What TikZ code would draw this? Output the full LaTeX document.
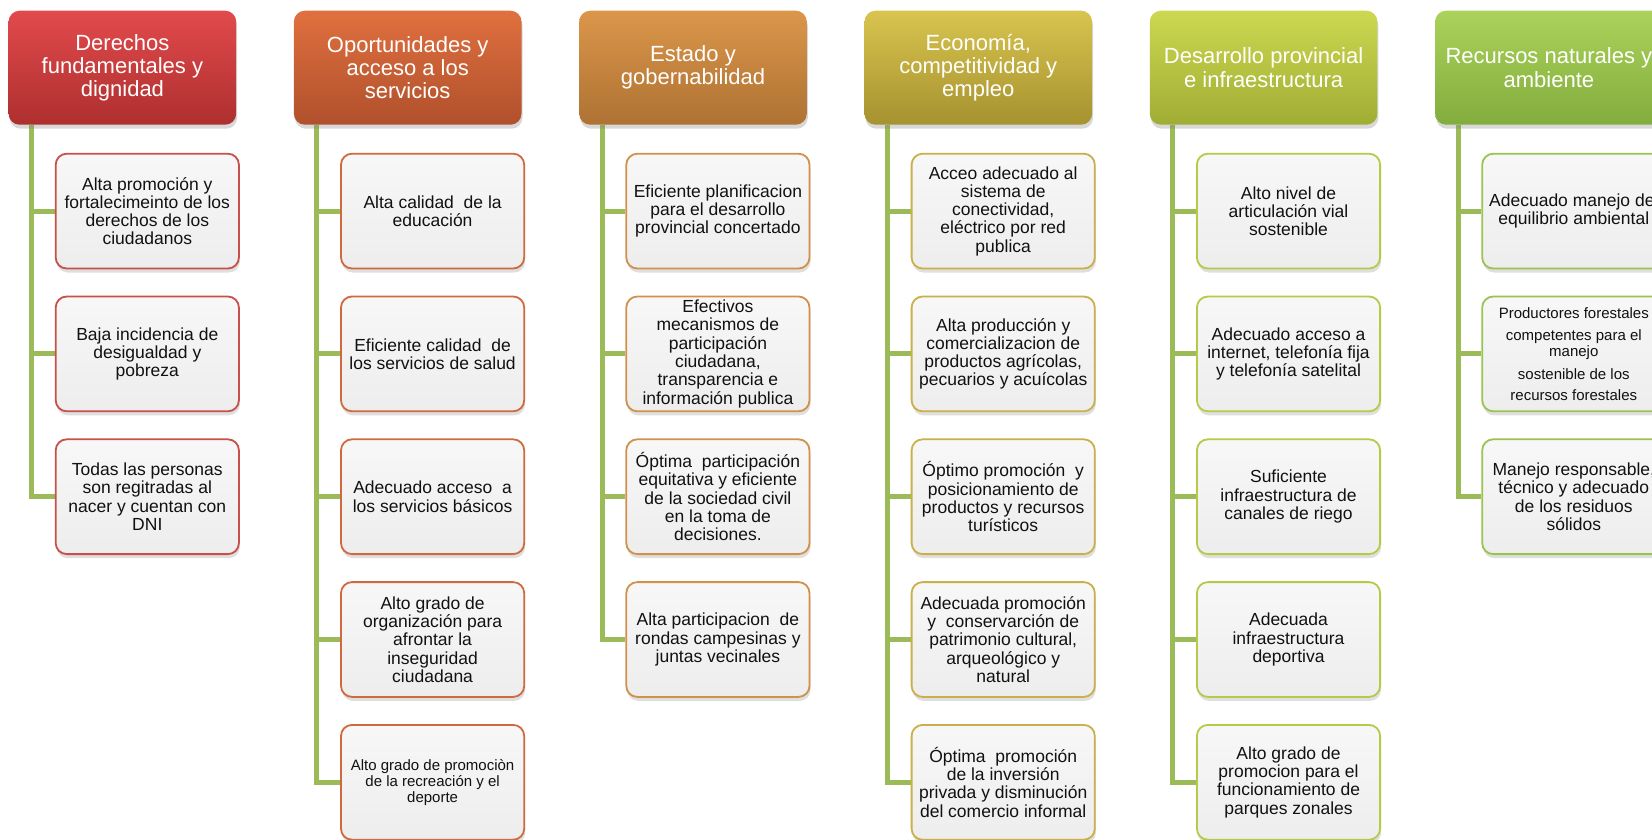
\documentclass[tikz,border=0pt]{standalone}
\usepackage{fontspec}
\setmainfont{Liberation Sans}
\usetikzlibrary{shadows,calc}
\pgfdeclarelayer{bg}
\pgfsetlayers{bg,main}
\definecolor{conncol}{HTML}{9BBB59}
\definecolor{b1}{HTML}{C8504B}\definecolor{t1}{HTML}{E24A4C}\definecolor{d1}{HTML}{AE2F2F}
\definecolor{b2}{HTML}{D0693E}\definecolor{t2}{HTML}{E0703F}\definecolor{d2}{HTML}{B0502C}
\definecolor{b3}{HTML}{D0914A}\definecolor{t3}{HTML}{DB964A}\definecolor{d3}{HTML}{AE7233}
\definecolor{b4}{HTML}{C9B048}\definecolor{t4}{HTML}{D8C44E}\definecolor{d4}{HTML}{A6922F}
\definecolor{b5}{HTML}{B7CA48}\definecolor{t5}{HTML}{CCD850}\definecolor{d5}{HTML}{A0AD34}
\definecolor{b6}{HTML}{9BC350}\definecolor{t6}{HTML}{ABD25A}\definecolor{d6}{HTML}{82AC3D}
\definecolor{txt}{HTML}{111111}
\tikzset{
  headbox/.style={anchor=north west, rounded corners=11pt, minimum width=227.6pt, minimum height=114pt,
    inner sep=2pt, align=center, text=white, font=\fontsize{22}{23.2}\selectfont,
    drop shadow={shadow xshift=1pt, shadow yshift=-4pt, opacity=0.3}},
  childbox/.style={anchor=north west, rounded corners=11pt, minimum width=183.2pt, minimum height=114.8pt,
    inner sep=2pt, align=center, text=txt, line width=1.8pt, top color=white!97!black, bottom color=white!93!black,
    font=\fontsize{17.5}{18.3}\selectfont,
    drop shadow={shadow xshift=1pt, shadow yshift=-4pt, opacity=0.25}},
  smalltext/.style={font=\fontsize{15}{15.8}\selectfont},
  conn/.style={draw=conncol, line width=5pt},
  h1s/.style={headbox, top color=t1, bottom color=d1},
  h2s/.style={headbox, top color=t2, bottom color=d2},
  h3s/.style={headbox, top color=t3, bottom color=d3},
  h4s/.style={headbox, top color=t4, bottom color=d4},
  h5s/.style={headbox, top color=t5, bottom color=d5},
  h6s/.style={headbox, top color=t6, bottom color=d6},
  k1/.style={childbox, draw=b1},
  k2/.style={childbox, draw=b2},
  k3/.style={childbox, draw=b3},
  k4/.style={childbox, draw=b4},
  k5/.style={childbox, draw=b5},
  k6/.style={childbox, draw=b6},
}
\begin{document}
\begin{tikzpicture}[x=1pt,y=-1pt]
\useasboundingbox (0,0) rectangle (1652,839);
\clip (0,0) rectangle (1652,839);

% headers
\node[h1s] (h1) at (8.4,10.5) {Derechos\\fundamentales y\\dignidad};
\node[h2s] (h2) at (293.7,10.5) {Oportunidades y\\acceso a los\\servicios};
\node[h3s] (h3) at (579.0,10.5) {Estado y\\gobernabilidad};
\node[h4s] (h4) at (864.3,10.5) {Economía,\\competitividad y\\empleo};
\node[h5s] (h5) at (1149.6,10.5) {Desarrollo provincial\\e infraestructura};
\node[h6s] (h6) at (1434.9,10.5) {Recursos naturales y\\ambiente};

% column 1
\node[k1] (c11) at (54.8,152.8) {Alta promoción y\\fortalecimeinto de los\\derechos de los\\ciudadanos};
\node[k1] (c12) at (54.8,295.6) {Baja incidencia de\\desigualdad y\\pobreza};
\node[k1] (c13) at (54.8,438.4) {Todas las personas\\son regitradas al\\nacer y cuentan con\\DNI};

% column 2
\node[k2] (c21) at (340.1,152.8) {Alta calidad\ \ de la\\educación};
\node[k2] (c22) at (340.1,295.6) {Eficiente calidad\ \ de\\los servicios de salud};
\node[k2] (c23) at (340.1,438.4) {Adecuado acceso\ \ a\\los servicios básicos};
\node[k2] (c24) at (340.1,581.2) {Alto grado de\\organización para\\afrontar la\\inseguridad\\ciudadana};
\node[k2,smalltext] (c25) at (340.1,724.0) {Alto grado de promociòn\\de la recreación y el\\deporte};

% column 3
\node[k3] (c31) at (625.4,152.8) {Eficiente planificacion\\para el desarrollo\\provincial concertado};
\node[k3] (c32) at (625.4,295.6) {Efectivos\\mecanismos de\\participación\\ciudadana,\\transparencia e\\información publica};
\node[k3] (c33) at (625.4,438.4) {Óptima\ \ participación\\equitativa y eficiente\\de la sociedad civil\\en la toma de\\decisiones.};
\node[k3] (c34) at (625.4,581.2) {Alta participacion\ \ de\\rondas campesinas y\\juntas vecinales};

% column 4
\node[k4] (c41) at (910.7,152.8) {Acceo adecuado al\\sistema de\\conectividad,\\eléctrico por red\\publica};
\node[k4] (c42) at (910.7,295.6) {Alta producción y\\comercializacion de\\productos agrícolas,\\pecuarios y acuícolas};
\node[k4] (c43) at (910.7,438.4) {Óptimo promoción\ \ y\\posicionamiento de\\productos y recursos\\turísticos};
\node[k4] (c44) at (910.7,581.2) {Adecuada promoción\\y\ \ conservarción de\\patrimonio cultural,\\arqueológico y\\natural};
\node[k4] (c45) at (910.7,724.0) {Óptima\ \ promoción\\de la inversión\\privada y disminución\\del comercio informal};

% column 5
\node[k5] (c51) at (1196.0,152.8) {Alto nivel de\\articulación vial\\sostenible};
\node[k5] (c52) at (1196.0,295.6) {Adecuado acceso a\\internet, telefonía fija\\y telefonía satelital};
\node[k5] (c53) at (1196.0,438.4) {Suficiente\\infraestructura de\\canales de riego};
\node[k5] (c54) at (1196.0,581.2) {Adecuada\\infraestructura\\deportiva};
\node[k5] (c55) at (1196.0,724.0) {Alto grado de\\promocion para el\\funcionamiento de\\parques zonales};

% column 6
\node[k6] (c61) at (1481.3,152.8) {Adecuado manejo del\\equilibrio ambiental};
\node[k6,smalltext] (c62) at (1481.3,295.6) {Productores forestales\\[7pt]competentes para el\\manejo\\[7pt]sostenible de los\\[5pt]recursos forestales};
\node[k6] (c63) at (1481.3,438.4) {Manejo responsable,\\técnico y adecuado\\de los residuos\\sólidos};

% connectors
\begin{pgfonlayer}{bg}
\fill[white] (0,0) rectangle (1652,839);
\foreach \h/\last/\list in {1/3/{1,2},2/5/{1,2,3,4},3/4/{1,2,3},4/5/{1,2,3,4},5/5/{1,2,3,4},6/3/{1,2}}{
  \coordinate (top\h) at ($(h\h.south west)+(23.2,0)$);
  \draw[conn] (top\h) |- (c\h\last.west);
  \foreach \r in \list {
    \draw[conn] (top\h |- c\h\r.west) -- (c\h\r.west);
  }
}
\end{pgfonlayer}
\end{tikzpicture}
\end{document}
